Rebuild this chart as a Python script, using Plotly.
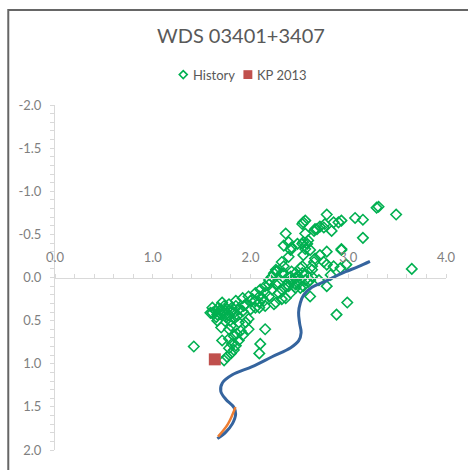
import plotly.graph_objects as go

# Observed relative positions (History)
hist_x = [3.29, 3.31, 3.49, 3.15, 3.07, 2.93, 2.90, 2.85, 2.78, 2.76, 2.71, 2.66, 2.65, 2.83, 2.54,
          2.53, 2.56, 2.59, 2.53, 2.48, 2.36, 2.34, 2.39, 2.42, 2.61, 2.54, 2.39, 3.15, 2.93, 2.78,
          2.71, 2.32, 2.53, 2.63, 2.78, 2.85, 2.92, 2.26, 2.32, 2.41, 2.46, 2.19, 2.29, 2.39, 2.49,
          2.59, 3.65, 2.66, 2.75, 2.65, 2.98, 2.51, 2.82, 2.63, 2.56, 2.70, 2.54, 2.78, 2.61, 2.99,
          2.88, 2.15, 2.19, 2.26, 2.34, 2.42, 2.49, 2.42, 2.61, 2.32, 2.24, 2.15, 2.09, 2.32, 2.39,
          2.46, 2.29, 2.10, 2.09, 2.56, 2.68, 2.75, 2.54, 2.58, 2.93, 2.51, 2.41, 2.36, 2.26, 2.56,
          2.41, 2.56, 2.34, 2.27, 2.24, 2.22, 2.53, 2.63, 2.46, 2.15, 2.10, 2.05, 1.98, 1.92, 1.85,
          1.78, 1.73, 1.70, 1.65, 1.61, 2.36, 2.19, 2.12, 2.05, 2.00, 1.93, 1.88, 1.81, 1.75, 2.46,
          1.42, 1.59, 1.66, 1.71, 1.76, 1.81, 1.71, 1.78, 1.83, 1.87, 1.92, 1.70, 1.78, 1.88, 1.95,
          1.98, 1.85, 1.95, 2.02, 2.09, 2.15, 2.22, 2.26, 2.00, 2.05, 2.09, 2.14, 1.90, 1.92, 1.88,
          1.85, 1.71, 1.78, 1.81, 1.83, 1.80, 1.76, 1.73, 1.78, 1.70, 1.75, 1.65, 1.98, 1.67, 1.73,
          1.79, 1.84, 1.66, 1.61, 1.80, 1.86, 1.83]
hist_y = [-0.81, -0.82, -0.73, -0.67, -0.69, -0.66, -0.64, -0.64, -0.73, -0.62, -0.59, -0.56, -0.54, -0.54, -0.64,
          -0.62, -0.51, -0.43, -0.39, -0.39, -0.51, -0.37, -0.41, -0.35, -0.32, -0.26, -0.24, -0.46, -0.32, -0.30,
          -0.26, -0.18, -0.13, -0.13, -0.15, -0.13, -0.11, -0.09, -0.05, -0.01, -0.05, 0.03, 0.07, 0.05, 0.07,
          0.05, -0.10, -0.22, -0.18, -0.18, -0.15, -0.11, -0.03, -0.01, 0.03, 0.03, 0.10, 0.10, 0.22, 0.29,
          0.43, 0.60, 0.08, -0.07, -0.05, -0.07, -0.01, 0.03, 0.03, 0.25, 0.31, 0.33, 0.35, 0.14, 0.10,
          0.08, 0.18, 0.77, 0.88, -0.66, -0.56, -0.58, -0.41, -0.39, -0.33, 0.12, 0.18, 0.24, 0.29, -0.03,
          -0.32, -0.33, -0.13, -0.07, -0.05, -0.01, -0.05, -0.09, 0.01, 0.10, 0.14, 0.18, 0.22, 0.24, 0.27,
          0.31, 0.33, 0.37, 0.39, 0.41, 0.10, 0.22, 0.24, 0.27, 0.27, 0.33, 0.37, 0.39, 0.43, 0.12,
          0.80, 0.41, 0.43, 0.39, 0.37, 0.35, 0.29, 0.44, 0.41, 0.44, 0.39, 0.58, 0.60, 0.52, 0.52,
          0.48, 0.33, 0.31, 0.25, 0.22, 0.18, 0.14, 0.08, 0.37, 0.35, 0.29, 0.27, 0.62, 0.67, 0.73,
          0.79, 0.73, 0.71, 0.77, 0.84, 0.88, 0.92, 0.96, 0.82, 0.43, 0.46, 0.46, 0.60, 0.35, 0.42,
          0.50, 0.47, 0.50, 0.35, 0.56, 0.65, 0.68]

# KP 2013 measurement
kp_x = [1.635]
kp_y = [0.949]

# Orbit curve
orbit_x = [3.222, 3.103, 2.933, 2.764, 2.628, 2.543, 2.510, 2.492, 2.503, 2.518, 2.492, 2.411,
           2.221, 2.017, 1.814, 1.712, 1.696, 1.747, 1.831, 1.848, 1.814, 1.747, 1.661]
orbit_y = [-0.186, -0.125, -0.049, 0.046, 0.114, 0.205, 0.293, 0.407, 0.535, 0.638, 0.735, 0.814,
           0.919, 1.033, 1.128, 1.222, 1.318, 1.412, 1.507, 1.583, 1.697, 1.792, 1.868]

# Short orange segment near the bottom of the orbit
seg_x = [1.846, 1.770, 1.668]
seg_y = [1.503, 1.697, 1.845]

x_ticks = [0, 1, 2, 3, 4]
x_labels = ["0.0", "1.0", "2.0", "3.0", "4.0"]
y_ticks = [-2.0, -1.5, -1.0, -0.5, 0.0, 0.5, 1.0, 1.5, 2.0]
y_labels = ["-2.0", "-1.5", "-1.0", "-0.5", "0.0", "0.5", "1.0", "1.5", "2.0"]

FONT = "Lato"
GREY_TXT = "#7F7F7F"
LEGEND_TXT = "#595959"
AXIS = "#D9D9D9"
GREEN = "#00B050"
RED = "#C0504D"

fig = go.Figure()
fig.add_trace(go.Scatter(
    x=hist_x, y=hist_y, mode="markers", name="History", showlegend=False,
    marker=dict(symbol="diamond-open", size=8, color=GREEN, line=dict(width=1.6, color=GREEN)),
))
fig.add_trace(go.Scatter(
    x=orbit_x, y=orbit_y, mode="lines", showlegend=False,
    line=dict(color="#35649E", width=3, shape="spline", smoothing=1.0),
))
fig.add_trace(go.Scatter(
    x=seg_x, y=seg_y, mode="lines", showlegend=False,
    line=dict(color="#ED7D31", width=2.5, shape="spline"),
))
fig.add_trace(go.Scatter(
    x=kp_x, y=kp_y, mode="markers", name="KP 2013", showlegend=False,
    marker=dict(symbol="square", size=12, color=RED),
))

fig.update_layout(
    width=468, height=470,
    margin=dict(l=55, r=20, t=105, b=13),
    paper_bgcolor="white", plot_bgcolor="white",
    font=dict(family=FONT, color=LEGEND_TXT),
    showlegend=False,
    title=dict(text="WDS 03401+3407", x=0.4755, xref="paper", xanchor="center",
               y=0.923, yanchor="middle", font=dict(size=20, color=LEGEND_TXT, family=FONT)),
    xaxis=dict(range=[0, 4], anchor="free", position=0.5, side="top",
               tickvals=x_ticks, ticktext=x_labels, showgrid=False, zeroline=False,
               showline=True, linecolor=AXIS, linewidth=1,
               ticks="outside", ticklen=4, tickcolor=AXIS, ticklabelstandoff=6,
               tickfont=dict(size=13, color=GREY_TXT, family=FONT),
               minor=dict(dtick=0.2, ticks="outside", ticklen=4, tickcolor=AXIS, showgrid=False)),
    yaxis=dict(range=[2, -2], tickvals=y_ticks, ticktext=y_labels, showgrid=False, zeroline=False,
               showline=True, linecolor=AXIS, linewidth=1,
               ticks="outside", ticklen=4, tickcolor=AXIS, ticklabelstandoff=6,
               tickfont=dict(size=13, color=GREY_TXT, family=FONT),
               minor=dict(dtick=0.1, ticks="outside", ticklen=4, tickcolor=AXIS, showgrid=False)),
)

# Compact legend row above the plot: symbol + label for each series
LEG_Y = 1.0881
fig.add_shape(type="path", xref="paper", yref="paper",
              path=f"M 0.3178 {LEG_Y} L 0.328 {LEG_Y + 0.0114} L 0.3382 {LEG_Y} L 0.328 {LEG_Y - 0.0114} Z",
              line=dict(color=GREEN, width=1.6), fillcolor="white")
fig.add_annotation(text="History", xref="paper", yref="paper", x=0.3483, y=LEG_Y,
                   xanchor="left", yanchor="middle", showarrow=False,
                   font=dict(size=13, color=LEGEND_TXT, family=FONT))
fig.add_shape(type="rect", xref="paper", yref="paper",
              x0=0.4819, x1=0.5047, y0=LEG_Y - 0.0128, y1=LEG_Y + 0.0128,
              line=dict(width=0), fillcolor=RED)
fig.add_annotation(text="KP 2013", xref="paper", yref="paper", x=0.511, y=LEG_Y,
                   xanchor="left", yanchor="middle", showarrow=False,
                   font=dict(size=13, color=LEGEND_TXT, family=FONT))

# Chart frame (top and left edges visible)
fig.add_shape(type="rect", xref="paper", yref="paper",
              x0=-0.1195, x1=1.1, y0=-0.1, y1=1.2756,
              line=dict(color="#666666", width=2), fillcolor="rgba(0,0,0,0)", layer="above")

fig.write_html("out.html")
